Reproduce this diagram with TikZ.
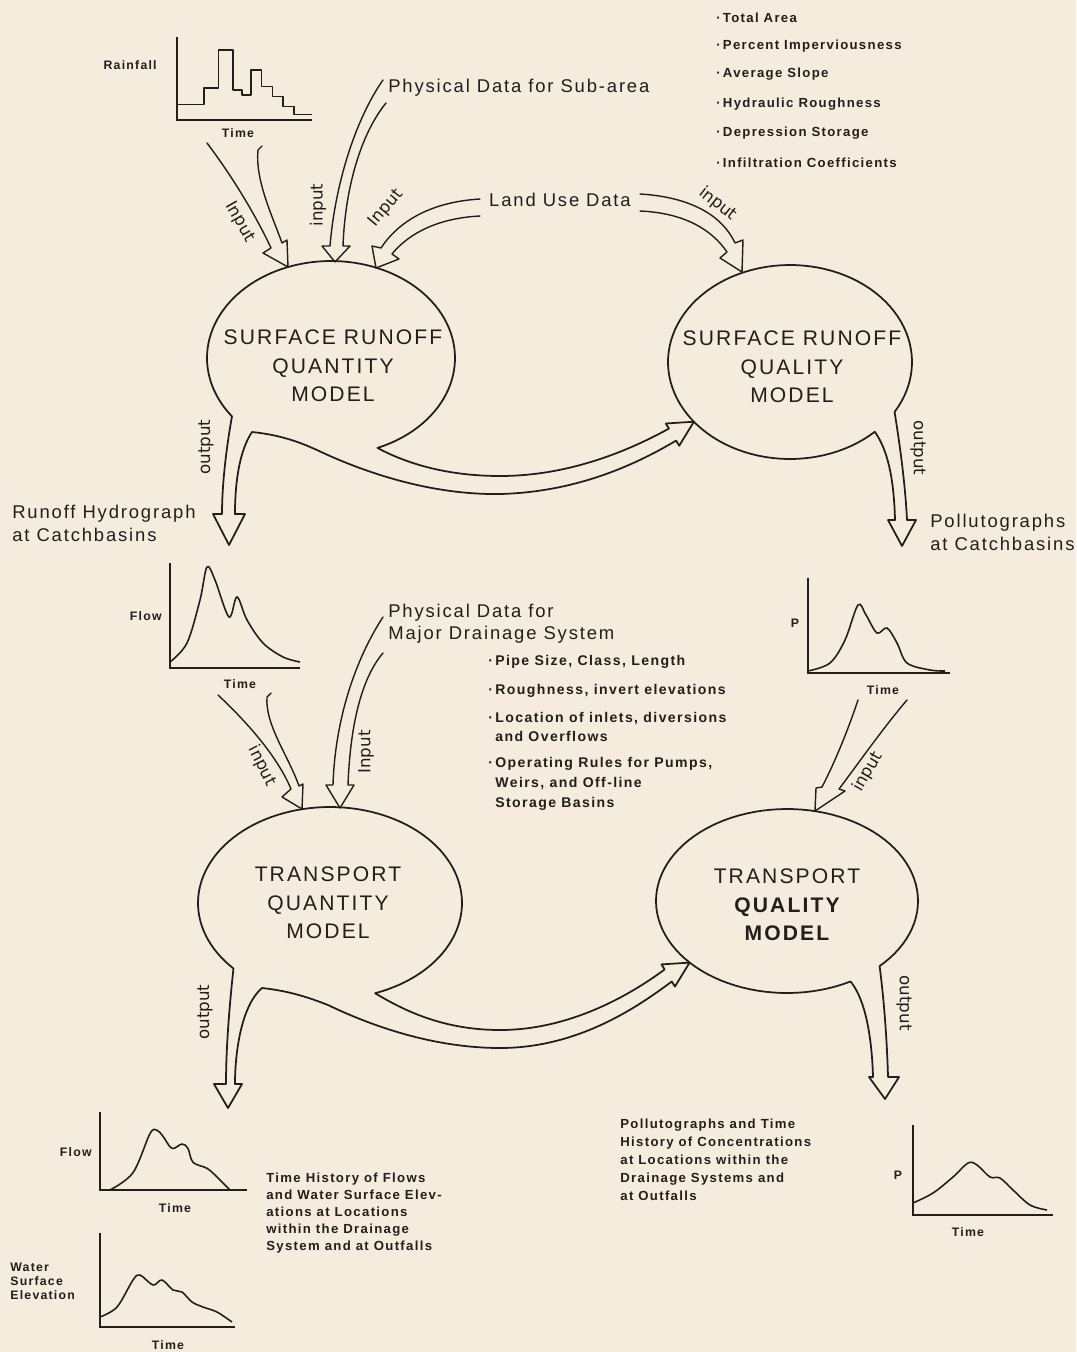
\documentclass[tikz,border=0pt]{standalone}
\usepackage{fontspec}
\setmainfont{Liberation Sans}
\newfontfamily\lsfont[LetterSpace=10]{Liberation Sans}
\newfontfamily\iofont{DejaVu Sans}
\definecolor{bg}{RGB}{245,236,222}
\definecolor{ink}{RGB}{35,30,28}
\tikzset{
 ln/.style={draw=ink, line width=0.8pt, line join=round, line cap=round},
 bubble/.style={draw=ink, line width=1pt, line join=round},
 title/.style={font=\lsfont\fontsize{12}{16.3}\selectfont, align=center, text=ink},
 med/.style={font=\lsfont\fontsize{10.5}{13}\selectfont, align=left, text=ink, inner sep=0pt},
 medb/.style={font=\lsfont\fontsize{10.5}{12.5}\selectfont, align=left, text=ink, inner sep=0pt},
 sml/.style={font=\lsfont\bfseries\fontsize{7.5}{9.6}\selectfont, align=left, text=ink, inner sep=0pt},
 smlc/.style={font=\lsfont\bfseries\fontsize{7.5}{10.2}\selectfont, align=left, text=ink, inner sep=0pt},
 smlb/.style={font=\lsfont\bfseries\fontsize{8}{11.3}\selectfont, align=left, text=ink, inner sep=0pt},
 axl/.style={font=\lsfont\bfseries\fontsize{7}{8}\selectfont, text=ink, inner sep=0pt},
 io/.style={font=\iofont\fontsize{9.5}{10}\selectfont, text=ink, inner sep=0pt},
 axisln/.style={draw=ink, line width=1pt},
 crv/.style={draw=ink, line width=0.9pt, smooth, tension=0.55},
}
\begin{document}
\begin{tikzpicture}[x=0.02cm, y=-0.02cm]
\useasboundingbox (0,0) rectangle (1076,1352);
\fill[bg] (0,0) rectangle (1076,1352);

% ---------- Rainfall graph
\draw[axisln] (177,37) -- (177,120) -- (312,120);
\draw[ln, line width=0.9pt, line cap=butt] (177,104.7) -- (204,104.7) -- (204,88.2) -- (218.4,88.2) -- (218.4,50.2) -- (232.8,50.2) -- (232.8,89.8) -- (241.8,89.8) -- (241.8,94.8) -- (250.8,94.8) -- (250.8,70) -- (261.6,70) -- (261.6,86.5) -- (272.4,86.5) -- (272.4,96.4) -- (283.2,96.4) -- (283.2,106.3) -- (294,106.3) -- (294,114.6) -- (312,114.6);
\node[axl, anchor=east] (rainlbl) at (157,65) {Rainfall};
\node[axl] (raintime) at (238,133) {Time};

% ---------- top texts
\node[med, anchor=west] (physsub) at (388,88) {Physical Data for Sub-area};
\node[med] (landuse) at (560,200) {Land Use Data};
\foreach \y/\t [count=\i] in {18/Total Area, 46/Percent Imperviousness, 74/Average Slope, 104/Hydraulic Roughness, 133/Depression Storage, 163/Infiltration Coefficients}
  \node[sml, anchor=west] (sa\i) at (716,\y) {·\,\t};

% ---------- Surface runoff quantity model (with output and transfer arrows)
\draw[bubble] plot[domain=-68:217, samples=100, variable=\t] ({331+124*cos(\t)},{358-97*sin(\t)})
 .. controls (226,450) and (222,485) .. (222,514)
 -- (213,514) -- (229,545) -- (245,514) -- (235,514)
 .. controls (235,480) and (240,450) .. (252,432)
 .. controls (290,436) and (310,447) .. (330,456)
 .. controls (380,478) and (440,495) .. (500,494)
 .. controls (580,492) and (640,462) .. (676.1,440.6)
 -- (679.2,445.7) -- (693.9,421.7) -- (665.8,423.5) -- (668.9,428.6)
 .. controls (630,450) and (570,476) .. (500,476)
 .. controls (440,476) and (400,460) .. (377.4,447.9)
 -- cycle;
\node[title] (srqn) at (333,366) {SURFACE RUNOFF\\QUANTITY\\MODEL};

% ---------- Surface runoff quality model
\draw[bubble] plot[domain=-391:-46, samples=100, variable=\t] ({790+122*cos(\t)},{362-97*sin(\t)})
 .. controls (888,450) and (894,480) .. (895,520)
 -- (888,520) -- (902,546) -- (916,520) -- (907,520)
 .. controls (905,480) and (899,440) .. (894.6,412)
 -- cycle;
\node[title] (srql) at (792,367) {SURFACE RUNOFF\\QUALITY\\MODEL};

% ---------- top input arrows
\draw[ln] (207,143) .. controls (235,180) and (258,220) .. (271,248) -- (263,253) -- (288,267) -- (287,240) -- (282,243) .. controls (272,215) and (255,180) .. (258,150) -- (262,146);
\draw[ln] (383,80) .. controls (355,120) and (335,185) .. (330,246) -- (322,246) -- (335,262) -- (350,246) -- (343,246) .. controls (345,190) and (360,135) .. (386,103);
\draw[ln] (480,199) .. controls (430,202) and (398,222) .. (381,248) -- (372,246) -- (376,268) -- (399,259) -- (392,254) .. controls (410,232) and (440,218) .. (480,216);
\draw[ln] (640,194) .. controls (690,197) and (722,215) .. (735,243) -- (743,240) -- (742,272) -- (720,258) -- (727,252) .. controls (712,230) and (685,213) .. (640,211);

\node[io, rotate=-60] (in1) at (240,222) {Input};
\node[io, rotate=90] (in2) at (318,205) {input};
\node[io, rotate=50] (in3) at (386,208) {Input};
\node[io, rotate=-38] (in4) at (718,204) {input};
\node[io, rotate=90] (out1) at (206,447) {output};
\node[io, rotate=-90] (out2) at (918,448) {output};

% ---------- outputs of surface models
\node[med, anchor=west] (rh) at (12,523) {Runoff Hydrograph\\at Catchbasins};
\node[med, anchor=west] (pcb) at (930,532) {Pollutographs\\at Catchbasins};

% Flow graph 1
\draw[axisln] (170,563) -- (170,668) -- (300,668);
\draw[crv] plot coordinates {(170,662) (187,643) (200,600) (207,567) (215,580) (229,617) (237,597) (247,620) (263,643) (283,657) (300,662)};
\node[axl, anchor=east] (flow1) at (162,616) {Flow};
\node[axl] (time1) at (240,684) {Time};

% P graph 1
\draw[axisln] (808,578) -- (808,673) -- (950,673);
\draw[crv] plot coordinates {(808,671) (830,663) (845,640) (858,605) (866,615) (877,633) (887,628) (897,643) (907,663) (930,670) (945,671)};
\node[axl] (p1) at (795,623) {P};
\node[axl] (time2) at (883,690) {Time};

% Physical data for major drainage system
\node[medb, anchor=west] (physmaj) at (388,624) {Physical Data for\\Major Drainage System};
\node[smlb, anchor=west] (pb1) at (488,662) {·\,Pipe Size, Class, Length};
\node[smlb, anchor=west] (pb2) at (488,691) {·\,Roughness, invert elevations};
\node[smlb, anchor=west] (pb3) at (488,727) {·\,Location of inlets, diversions\\\phantom{·\,}and Overflows};
\node[smlb, anchor=west] (pb4) at (488,784) {·\,Operating Rules for Pumps,\\\phantom{·\,}Weirs, and Off-line\\\phantom{·\,}Storage Basins};

% ---------- Transport quantity model
\draw[bubble] plot[domain=-70:223, samples=100, variable=\t] ({330+132*cos(\t)},{903-96*sin(\t)})
 .. controls (229,1010) and (226,1050) .. (226,1084)
 -- (214,1084) -- (228,1108) -- (242,1084) -- (235,1084)
 .. controls (235,1050) and (242,1005) .. (262,988)
 .. controls (290,991) and (310,998) .. (328,1005)
 .. controls (380,1030) and (440,1048) .. (500,1048)
 .. controls (580,1048) and (640,1005) .. (671.8,981.5)
 -- (674.9,986.6) -- (689.6,962.6) -- (661.5,964.4) -- (664.6,969.5)
 .. controls (630,995) and (570,1030) .. (500,1030)
 .. controls (440,1030) and (400,1008) .. (375.1,993.2)
 -- cycle;
\node[title] (tqn) at (328,903) {TRANSPORT\\QUANTITY\\MODEL};

% ---------- Transport quality model
\draw[bubble] plot[domain=-405:-61, samples=100, variable=\t] ({787+131*cos(\t)},{901-92*sin(\t)})
 .. controls (866,1000) and (872,1040) .. (873,1077)
 -- (869,1077) -- (885,1099) -- (899,1077) -- (888,1077)
 .. controls (887,1040) and (884,1000) .. (879.6,966.1)
 -- cycle;
\node[title] (tql) at (787,905) {TRANSPORT\\{\bfseries QUALITY}\\{\bfseries MODEL}};

% ---------- lower input arrows
\draw[ln] (218,695) .. controls (250,725) and (278,758) .. (291,789) -- (282,797) -- (302,809) -- (303,784) -- (299,786) .. controls (288,755) and (265,725) .. (267,697) -- (271,693);
\draw[ln] (383,617) .. controls (355,660) and (335,720) .. (333,785) -- (326,785) -- (340,808) -- (354,785) -- (348,785) .. controls (350,730) and (360,680) .. (383,653);
\draw[ln] (858,700) .. controls (848,730) and (835,762) .. (822,787) -- (816,788) -- (815,811) -- (845,791) -- (839,789) .. controls (855,768) and (883,728) .. (907,700);

\node[io, rotate=-63] (in5) at (262,766) {input};
\node[io, rotate=90] (in6) at (366,752) {Input};
\node[io, rotate=60] (in7) at (868,772) {input};
\node[io, rotate=90] (out3) at (205,1012) {output};
\node[io, rotate=-90] (out4) at (904,1003) {output};

% ---------- bottom-left results
\draw[axisln] (100,1112) -- (100,1190) -- (247,1190);
\draw[crv] plot coordinates {(110,1190) (133,1172.7) (150,1133.6) (157,1130.2) (163,1136.3) (172,1148.4) (182,1144) (188,1148.4) (193,1162.3) (207,1168.3) (217,1177) (230,1190)};
\node[axl, anchor=east] (flow2) at (92,1152) {Flow};
\node[axl] (time3) at (175,1208) {Time};

\draw[axisln] (100,1233) -- (100,1327) -- (235,1327);
\draw[crv] plot coordinates {(100,1317) (117,1307) (133,1280) (140,1275) (153,1285) (162,1280) (173,1290) (182,1292) (192,1302) (203,1307) (217,1312) (232,1322)};
\node[axl, anchor=west, align=left] (wse) at (10,1281) {Water\\Surface\\Elevation};
\node[axl] (time4) at (168,1345) {Time};

\node[sml, anchor=north west] (thf) at (266,1173) {Time History of Flows\\and Water Surface Elev-\\ations at Locations\\within the Drainage\\System and at Outfalls};

% ---------- bottom-right results
\node[smlc, anchor=north west] (ptc) at (620,1119) {Pollutographs and Time\\History of Concentrations\\at Locations within the\\Drainage Systems and\\at Outfalls};
\draw[axisln] (913,1125) -- (913,1215) -- (1053,1215);
\draw[crv] plot coordinates {(913,1203) (933,1193) (953,1177) (968,1163) (977,1165) (990,1177) (1000,1178) (1013,1190) (1030,1205) (1047,1210)};
\node[axl] (p2) at (898,1175) {P};
\node[axl] (time5) at (968,1232) {Time};
\end{tikzpicture}
\end{document}
